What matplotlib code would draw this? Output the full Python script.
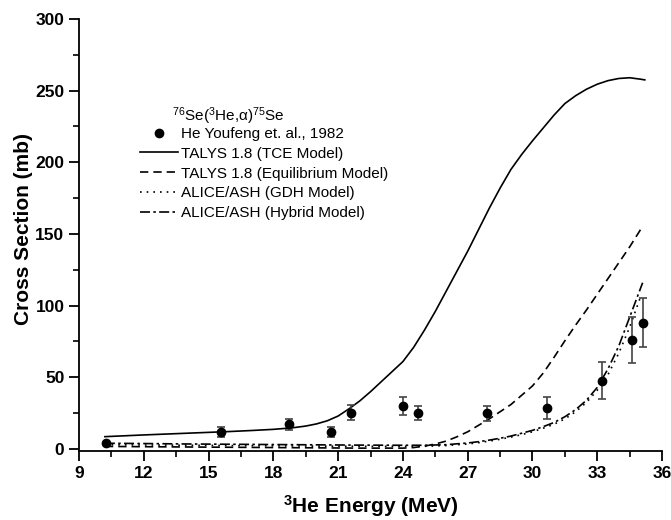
import matplotlib
matplotlib.use("Agg")
import matplotlib.pyplot as plt

plt.rcParams['font.family'] = ['Liberation Sans', 'DejaVu Sans']
plt.rcParams['mathtext.fontset'] = 'custom'
plt.rcParams['mathtext.rm'] = 'Liberation Sans'
plt.rcParams['mathtext.it'] = 'Liberation Sans:italic'
plt.rcParams['mathtext.bf'] = 'Liberation Sans:bold'

# experimental data (He Youfeng et al., 1982)
exp_energy = [10.24, 15.57, 18.74, 20.67, 21.6, 23.99, 24.71, 27.9, 30.65, 33.21, 34.6, 35.1]
exp_xs = [4.0, 12.1, 17.2, 11.9, 25.3, 30.0, 25.3, 24.9, 28.6, 47.7, 76.0, 88.1]
exp_err = [0, 3.5, 4.0, 3.3, 5.3, 6.3, 5.0, 5.3, 7.8, 13.0, 16.3, 17.0]

# TALYS 1.8 (TCE model)
tce_energy = [10.2, 12, 14, 16, 17, 18, 18.5, 19, 19.5, 20, 20.5, 21, 21.5, 22, 22.5, 23, 23.5,
              24, 24.5, 25, 25.5, 26, 26.5, 27, 27.5, 28, 28.5, 29, 29.5, 30, 30.5, 31, 31.5,
              32, 32.5, 33, 33.5, 34, 34.5, 35, 35.2]
tce_xs = [8.6, 9.8, 11.0, 12.2, 12.9, 13.7, 14.3, 15.0, 16.0, 17.5, 19.7, 23.0, 28.0, 33.5,
          40, 47, 54, 61, 71, 83, 96, 110, 124, 138, 153, 168, 182, 195, 205.5, 215, 224,
          233, 241, 246.5, 251, 254.5, 257, 258.5, 259, 258, 257.5]

# TALYS 1.8 (equilibrium model)
eq_energy = [10.2, 12, 14, 16, 18, 20, 22, 24, 24.5, 25, 25.5, 26, 26.5, 27, 27.5, 28, 28.5,
             29, 29.5, 30, 30.5, 31, 31.5, 32, 32.5, 33, 33.5, 34, 34.5, 35]
eq_xs = [1.8, 1.6, 1.4, 1.2, 1.0, 0.8, 0.6, 0.6, 1.0, 2.0, 3.5, 5.5, 8.5, 12, 16.5, 21, 26,
         31, 37.5, 44, 53, 64, 75.5, 86.5, 97, 108, 119, 130, 141, 153]

# ALICE/ASH (GDH model)
gdh_energy = [10.2, 12, 14, 16, 18, 20, 22, 24, 25, 26, 27, 27.5, 28, 28.5, 29, 29.5, 30,
              30.5, 31, 31.5, 32, 32.5, 33, 33.5, 34, 34.5, 35.0]
gdh_xs = [3.0, 2.8, 2.6, 2.4, 2.2, 2.0, 1.9, 1.8, 1.9, 2.4, 3.5, 4.4, 5.5, 6.8, 8.3, 10, 12,
          14.5, 17.3, 21, 26, 32.5, 41, 52, 67, 85, 106]

# ALICE/ASH (hybrid model)
hyb_energy = [10.2, 12, 14, 16, 18, 20, 22, 24, 25, 26, 27, 27.5, 28, 28.5, 29, 29.5, 30,
              30.5, 31, 31.5, 32, 32.5, 33, 33.5, 34, 34.5, 35.1]
hyb_xs = [4.0, 3.8, 3.5, 3.3, 3.1, 2.9, 2.7, 2.6, 2.6, 3.0, 4.2, 5.1, 6.2, 7.5, 9.0, 11, 13,
          15.6, 18.5, 22.5, 27.5, 34, 43, 56, 72, 92, 116]

fig = plt.figure(figsize=(6.71, 5.2), dpi=100)
ax = fig.add_axes([0.1177, 0.1327, 0.869, 0.8308])

eb = ax.errorbar(exp_energy, exp_xs, yerr=exp_err, fmt='o', color='black', ms=6,
                 ecolor='#444444', elinewidth=1.2, capsize=3, capthick=1.2, zorder=5)
tce, = ax.plot(tce_energy, tce_xs, color='black', lw=1.2)
eq, = ax.plot(eq_energy, eq_xs, color='black', lw=1.2, linestyle=(0, (5, 3)))
gdh, = ax.plot(gdh_energy, gdh_xs, color='black', lw=1.2, linestyle=(0, (1, 3)))
hyb, = ax.plot(hyb_energy, hyb_xs, color='black', lw=1.2, linestyle=(0, (6, 2, 1.5, 2)))

ax.set_xlim(9, 36)
ax.set_ylim(-1.4, 300)
ax.set_xticks(range(9, 37, 3))
ax.set_xticks([x + 1.5 for x in range(9, 36, 3)], minor=True)
ax.set_yticks(range(0, 301, 50))
ax.set_yticks(range(25, 300, 50), minor=True)

for s in ['top', 'right']:
    ax.spines[s].set_visible(False)
for s in ['left', 'bottom']:
    ax.spines[s].set_linewidth(1.3)

ax.tick_params(which='major', direction='out', length=7, width=1.3, labelsize=12.5)
ax.tick_params(which='minor', direction='out', length=4, width=1.2)
for lbl in ax.get_xticklabels() + ax.get_yticklabels():
    lbl.set_fontweight('bold')

ax.set_xlabel(r'$^{\mathbf{3}}$He Energy (MeV)', fontsize=15, fontweight='bold', labelpad=9)
ax.set_ylabel('Cross Section (mb)', fontsize=15, fontweight='bold')
ax.yaxis.set_label_coords(-0.079, 0.514)

ax.text(0.16, 0.775, r'$^{76}$Se($^{3}$He,α)$^{75}$Se', transform=ax.transAxes,
        fontsize=11, ha='left', va='center')
ax.legend([eb[0], tce, eq, gdh, hyb],
          ['He Youfeng et. al., 1982', 'TALYS 1.8 (TCE Model)',
           'TALYS 1.8 (Equilibrium Model)', 'ALICE/ASH (GDH Model)',
           'ALICE/ASH (Hybrid Model)'],
          loc='upper left', bbox_to_anchor=(0.105, 0.750), frameon=False, fontsize=11,
          handlelength=2.5, handletextpad=0.2, labelspacing=0.38, borderaxespad=0,
          borderpad=0)

fig.savefig('out.png', dpi=100)
